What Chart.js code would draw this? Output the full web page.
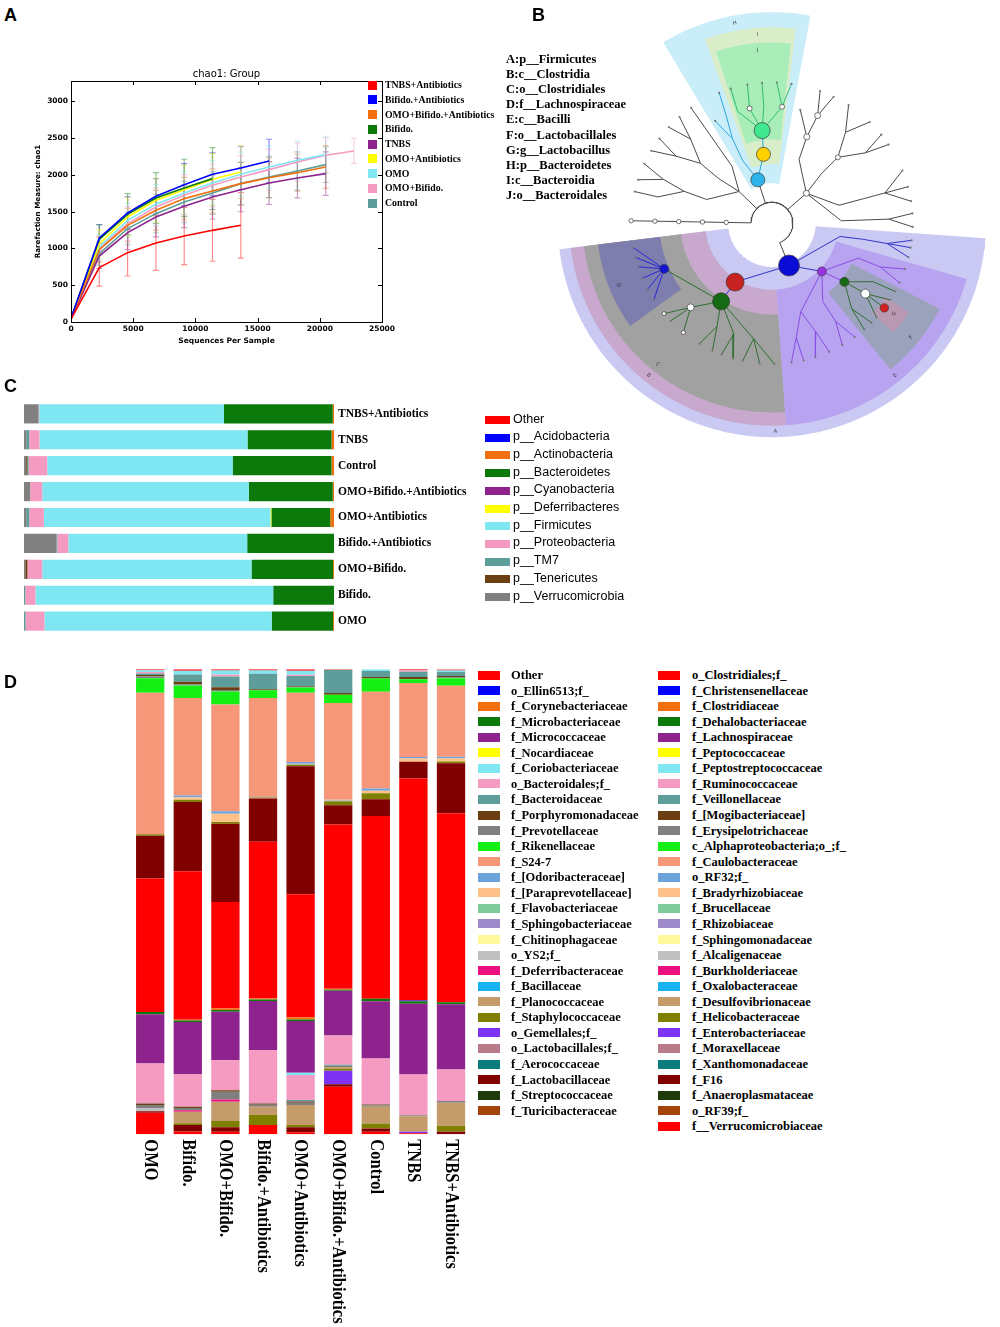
<!DOCTYPE html>
<html><head><meta charset="utf-8">
<script src="https://cdn.jsdelivr.net/npm/chart.js@4.4.1/dist/chart.umd.min.js"></script>
<style>
html,body{margin:0;padding:0;background:#fff}
body{position:relative;width:1000px;height:1327px;overflow:hidden}
canvas{position:absolute}
.t{position:absolute;white-space:nowrap;color:#000;z-index:5}
.sw{position:absolute;z-index:5}
</style></head><body>
<canvas id="cA" width="400" height="290" style="left:0;top:60px"></canvas>
<canvas id="cB" width="460" height="455" style="left:540px;top:0"></canvas>
<canvas id="cC" width="480" height="255" style="left:0;top:390px"></canvas>
<canvas id="cD" width="380" height="667" style="left:100px;top:660px"></canvas>
<script>
// ---------------- shared palette ----------------
const palette = ['#ff0000','#0000ff','#f07010','#0b7a0b','#8e238e','#ffff00','#7fe7f1','#f59bc2','#5e9d99','#6b3f12',
 '#808080','#14f014','#f6977a','#6ea2da','#fdc189','#80cb9b','#9c89c9','#fff89c','#c0c0c0','#ec0f80',
 '#17b3f0','#c49b6b','#808000','#7c33f4','#b97a8a','#0c7c7c','#800000','#1f3a0b','#a3440c'];

// ---------------- Panel A data ----------------
const seqDepth = [0, 2275, 4550, 6825, 9100, 11375, 13650, 15925, 18200, 20475, 22750];
const groupsA = ['TNBS+Antibiotics','Bifido.+Antibiotics','OMO+Bifido.+Antibiotics','Bifido.','TNBS','OMO+Antibiotics','OMO','OMO+Bifido.','Control'];
const chaoTnbsAnti     = [40, 739, 943, 1074, 1169, 1246, 1314];
const chaoBifidoAnti   = [50, 1142, 1482, 1709, 1867, 2008, 2094, 2189];
const chaoOmoBifidoAnti= [45, 983, 1314, 1518, 1677, 1781, 1881, 1962, 2030, 2107];
const chaoBifido       = [50, 1124, 1464, 1686, 1822, 1949];
const chaoTnbs         = [40, 897, 1215, 1428, 1573, 1700, 1799, 1890, 1958, 2017];
const chaoOmoAnti      = [45, 1065, 1428, 1654, 1799, 1940, 2039];
const chaoOmo          = [45, 1020, 1382, 1600, 1754, 1890, 2008, 2107, 2198, 2275];
const chaoOmoBifido    = [45, 997, 1337, 1563, 1722, 1858, 1971, 2071, 2175, 2266, 2325];
const chaoControl      = [45, 929, 1269, 1473, 1632, 1754, 1881, 1971, 2053, 2139];
const errTnbsAnti      = [0, 250, 318, 372, 390, 420, 445];
const errBifidoAnti    = [0, 180, 220, 240, 285, 290, 295, 295];
const errOmoBifidoAnti = [0, 170, 230, 270, 290, 300, 290, 270, 250, 290];
const errBifido        = [0, 200, 280, 345, 390, 420];
const errTnbs          = [0, 170, 230, 270, 290, 300, 300, 290, 270, 295];
const errOmoAnti       = [0, 190, 260, 300, 330, 350, 360];
const errOmo           = [0, 170, 230, 270, 290, 300, 300, 290, 260, 250];
const errOmoBifido     = [0, 170, 230, 260, 280, 290, 290, 280, 260, 240, 170];
const errControl       = [0, 160, 220, 260, 280, 290, 290, 280, 260, 240];
const chaoSeries = [chaoTnbsAnti, chaoBifidoAnti, chaoOmoBifidoAnti, chaoBifido, chaoTnbs, chaoOmoAnti, chaoOmo, chaoOmoBifido, chaoControl];
const chaoErrors = [errTnbsAnti, errBifidoAnti, errOmoBifidoAnti, errBifido, errTnbs, errOmoAnti, errOmo, errOmoBifido, errControl];
const xTicksA = [0, 5000, 10000, 15000, 20000, 25000];
const yTicksA = [0, 500, 1000, 1500, 2000, 2500, 3000];

// ---------------- Panel B data ----------------
const cladeLegend = ['A:p__Firmicutes','B:c__Clostridia','C:o__Clostridiales','D:f__Lachnospiraceae','E:c__Bacilli','F:o__Lactobacillales','G:g__Lactobacillus','H:p__Bacteroidetes','I:c__Bacteroidia','J:o__Bacteroidales'];
const sectorName   = ['A','B','C','D','E','F','G','H','I','J'];
const sectorStart  = [-173, -173, -173, -173, -86, -51, -42, 79.5, 83, 84];
const sectorEnd    = [-4, -86, -86, -144, -16, -27, -33, 121, 110, 108];
const sectorInner  = [46, 70, 96, 118, 70, 94, 142, 42, 62, 88];
const sectorOuter  = [225, 213, 199, 184, 213, 198, 172, 222, 206, 190];
const sectorLabelAngle  = [-89, -129, -129, -158, -51, -39.4, -36.6, 100.5, 94.3, 94.7];
const sectorLabelRadius = [219, 206, 191, 174, 206, 189, 160, 214, 199, 183];
const levelRadius = [22, 48, 73, 98, 123, 148];
const treeParent = [-1,0,1,2,3,4,4,4,4,4,4,3,11,11,11,3,15,15,3,18,18,3,21,21,21,
  1,25,26,27,27,27,26,31,31,26,34,25,36,37,37,36,40,40,25,43,44,44,25,47,48,48,1,51,52,53,53,53,
  0,57,58,59,60,59,62,59,64,59,66,66,57,69,70,71,70,
  0,74,75,76,77,77,76,80,80,74,83,84,85,74,87,88,89,89,88,92,
  0,94,95,96,97,
  0,99,100,101,102,102,101,99,106,107,108,108,107,111,111,99,114,115,116,116,116,99,120,121,122,122];
const treeAngle = [34,-68,-122,-123,-157,-170,-166,-162,-157,-152,-147,-134,-140,-136,-129,-118,-121,-115,-109,-111,-106,-99,-102,-95,-89,
  -44,-39,-37,-37,-42,-33,-47,-49,-45,-30,-29,-72,-78,-82,-77,-68,-72,-66,-57,-57,-60,-54,-22,-22,-25,-19,-11,-10,-10,-14,-10,-7,
  108,97,96,107,107,101,100,94,94,85,88,82,115,115,113,112,119,
  136,140,140,134,131,137,145,143,149,125,125,125,125,160,160,158,155,162,167,167,
  179,179,179,179,179,
  41,67,68,67,70,64,76,45,45,51,57,46,37,39,34,15,15,15,22,15,9,2,2,2,-1.5,4];
const treeLevel = [0,1,2,3,4,5,5,5,5,5,5,4,5,5,5,4,5,5,4,5,5,4,5,5,5,
  2,3,4,5,5,5,4,5,5,4,5,3,4,5,5,4,5,5,3,4,5,5,3,4,5,5,2,3,4,5,5,5,
  1,2,3,4,5,4,5,4,5,4,5,5,2,3,4,5,4,
  1,2,3,4,5,5,4,5,5,2,3,4,5,2,3,4,5,5,4,5,
  1,2,3,4,5,
  1,2,3,4,5,5,4,2,3,4,5,5,4,5,5,2,3,4,5,5,5,2,3,4,5,5];
const treeEdge = ['g','g','A','A','C','D','D','D','D','D','D','C','C','C','C','C','C','C','C','C','C','C','C','C','C',
  'A','E','F','F','F','F','F','F','F','F','F','E','E','E','E','E','E','E','E','E','E','E','E','E','E','E','A','A','A','A','A','A',
  'g','H','H','J','J','J','J','J','J','J','J','J','H','H','H','H','H',
  'g','g','g','g','g','g','g','g','g','g','g','g','g','g','g','g','g','g','g','g',
  'g','g','g','g','g',
  'g','g','g','g','g','g','g','g','g','g','g','g','g','g','g','g','g','g','g','g','g','g','g','g','g','g'];
const edgeKeys   = ['g','A','C','D','E','F','H','J'];
const edgeColors = ['#4a4a4a','#3535c8','#2f6e2f','#2828d8','#8a4de6','#2f6e2f','#2ea6e0','#2fbf6f'];
const markerNode  = [1, 2, 3, 4, 11, 12, 14, 25, 26, 27, 28, 57, 58, 59, 62, 66, 94, 95, 96, 97, 98, 99, 101, 102, 107];
const markerColor = ['#0b0bd6','#c62222','#146b14','#1414d2','#ffffff','#ffffff','#ffffff','#9932e0','#146b14','#ffffff','#d42020',
  '#2bb3ea','#ffd000','#40e890','#ffffff','#ffffff','#ffffff','#ffffff','#ffffff','#ffffff','#ffffff','#ffffff','#ffffff','#ffffff','#ffffff'];
const markerSize  = [10.5, 9, 8.5, 4.5, 3.5, 2, 2, 4.5, 4.5, 4.5, 4.2, 7, 7, 8, 2.5, 2.5, 2.2, 2.2, 2.2, 2.2, 2.2, 3, 3, 3, 2.5];
const sectorColor = ['#c9c9f3','#c8a9cd','#a1a1a1','#7d7dae','#b7a3ef','#9ba3bc','#b999b2','#c9edf9','#d9edc9','#a9edb9'];

// ---------------- Panel C data ----------------
const groupsC = ['TNBS+Antibiotics','TNBS','Control','OMO+Bifido.+Antibiotics','OMO+Antibiotics','Bifido.+Antibiotics','OMO+Bifido.','Bifido.','OMO'];
const phylaC = ['Other','p__Acidobacteria','p__Actinobacteria','p__Bacteroidetes','p__Cyanobacteria','p__Deferribacteres','p__Firmicutes','p__Proteobacteria','p__TM7','p__Tenericutes','p__Verrucomicrobia'];
const cOther           = [0, 0, 0, 0, 0, 0, 0, 0, 0];
const cAcidobacteria   = [0, 0, 0, 0, 0, 0, 0, 0, 0];
const cActinobacteria  = [0.4, 0.8, 0.8, 0.4, 1.2, 0, 0.3, 0, 0.3];
const cBacteroidetes   = [35.1, 27.1, 31.9, 27.1, 19.0, 28.0, 26.3, 19.6, 19.8];
const cCyanobacteria   = [0, 0, 0, 0, 0, 0, 0, 0, 0];
const cDeferribacteres = [0, 0, 0, 0, 0.3, 0, 0, 0, 0];
const cFirmicutes      = [59.6, 67.1, 59.8, 66.6, 73.1, 57.7, 67.5, 76.7, 73.3];
const cProteobacteria  = [0.2, 3.3, 6.0, 3.9, 4.7, 3.6, 4.8, 3.3, 6.1];
const cTM7             = [0, 1.0, 0.4, 0, 1.0, 0.3, 0, 0.4, 0.5];
const cTenericutes     = [0, 0, 0.4, 0, 0, 0, 0.7, 0, 0];
const cVerrucomicrobia = [4.7, 0.7, 0.7, 2.0, 0.7, 10.4, 0.4, 0, 0];
const phylaValues = [cOther, cAcidobacteria, cActinobacteria, cBacteroidetes, cCyanobacteria, cDeferribacteres, cFirmicutes, cProteobacteria, cTM7, cTenericutes, cVerrucomicrobia];

// ---------------- Panel D data ----------------
const groupsD = ['OMO','Bifido.','OMO+Bifido.','Bifido.+Antibiotics','OMO+Antibiotics','OMO+Bifido.+Antibiotics','Control','TNBS','TNBS+Antibiotics'];
const taxaD = ['Other','o_Ellin6513;f_','f_Corynebacteriaceae','f_Microbacteriaceae','f_Micrococcaceae','f_Nocardiaceae','f_Coriobacteriaceae','o_Bacteroidales;f_','f_Bacteroidaceae','f_Porphyromonadaceae','f_Prevotellaceae','f_Rikenellaceae','f_S24-7','f_[Odoribacteraceae]','f_[Paraprevotellaceae]','f_Flavobacteriaceae','f_Sphingobacteriaceae','f_Chitinophagaceae','o_YS2;f_','f_Deferribacteraceae','f_Bacillaceae','f_Planococcaceae','f_Staphylococcaceae','o_Gemellales;f_','o_Lactobacillales;f_','f_Aerococcaceae','f_Lactobacillaceae','f_Streptococcaceae','f_Turicibacteraceae',
 'o_Clostridiales;f_','f_Christensenellaceae','f_Clostridiaceae','f_Dehalobacteriaceae','f_Lachnospiraceae','f_Peptococcaceae','f_Peptostreptococcaceae','f_Ruminococcaceae','f_Veillonellaceae','f_[Mogibacteriaceae]','f_Erysipelotrichaceae','c_Alphaproteobacteria;o_;f_','f_Caulobacteraceae','o_RF32;f_','f_Bradyrhizobiaceae','f_Brucellaceae','f_Rhizobiaceae','f_Sphingomonadaceae','f_Alcaligenaceae','f_Burkholderiaceae','f_Oxalobacteraceae','f_Desulfovibrionaceae','f_Helicobacteraceae','f_Enterobacteriaceae','f_Moraxellaceae','f_Xanthomonadaceae','f_F16','f_Anaeroplasmataceae','o_RF39;f_','f__Verrucomicrobiaceae'];
const dOther                = [0.2, 0.3, 0.25, 0.25, 0.3, 0.1, 0, 0.2, 0.2];
const dCoriobacteriaceae    = [0.4, 0.8, 0.85, 0.7, 0.85, 0, 0.35, 0, 0.35];
const dBacteroidalesF       = [0.3, 0, 0.45, 0, 0.3, 0, 0, 0.35, 0];
const dBacteroidaceae       = [0.3, 1.6, 2.3, 3.35, 2.15, 5.0, 1.3, 1.1, 0.85];
const dPorphyromonadaceae   = [0.3, 0.5, 0.6, 0.2, 0.15, 0.35, 0.35, 0.5, 0.25];
const dPrevotellaceae       = [0.4, 0.3, 0.3, 0, 0.15, 0, 0, 0, 0.25];
const dRikenellaceae        = [3.15, 2.65, 2.8, 1.65, 1.15, 1.8, 2.85, 0.8, 1.6];
const dS247                 = [30.4, 21.0, 23.0, 21.15, 14.9, 20.8, 20.8, 15.9, 15.25];
const dOdoribacteraceae     = [0, 0.35, 0.5, 0, 0.35, 0, 0.45, 0.35, 0.35];
const dParaprevotellaceae   = [0, 0.55, 1.8, 0, 0, 0, 0.55, 0.7, 0.7];
const dYS2F                 = [0, 0, 0, 0, 0.25, 0.35, 0, 0, 0];
const dPlanococcaceae       = [0, 0, 0, 0.5, 0, 0, 0, 0, 0];
const dStaphylococcaceae    = [0.35, 0.5, 0.35, 0, 0.3, 0.85, 1.3, 0, 0.35];
const dLactobacillaceae     = [9.2, 14.9, 16.85, 9.3, 27.5, 4.15, 3.6, 3.6, 10.75];
const dClostridialesF       = [28.7, 31.9, 22.9, 33.7, 26.5, 35.3, 39.3, 47.7, 40.65];
const dChristensenellaceae  = [0, 0, 0, 0, 0, 0, 0, 0.2, 0];
const dClostridiaceae       = [0, 0.2, 0.3, 0.2, 0.45, 0.2, 0, 0, 0];
const dDehalobacteriaceae   = [0.5, 0.3, 0.4, 0.35, 0.35, 0.25, 0.55, 0.5, 0.45];
const dLachnospiraceae      = [10.6, 11.2, 10.4, 10.5, 11.1, 9.6, 12.3, 15.25, 14.0];
const dPeptostreptococcaceae= [0, 0, 0, 0, 0.5, 0, 0, 0, 0];
const dRuminococcaceae      = [8.6, 7.0, 6.45, 11.5, 5.4, 6.3, 9.9, 8.75, 6.8];
const dVeillonellaceae      = [0, 0, 0, 0, 0.3, 0.2, 0, 0, 0];
const dMogibacteriaceae     = [0.3, 0.3, 0.35, 0.3, 0.25, 0, 0.2, 0, 0];
const dErysipelotrichaceae  = [0.75, 0.5, 1.65, 0.4, 0.5, 0.3, 0.3, 0.2, 0.35];
const dAlcaligenaceae       = [0.6, 0, 0, 0, 0, 0, 0, 0, 0];
const dBurkholderiaceae     = [0, 0.3, 0.5, 0, 0, 0, 0, 0, 0];
const dDesulfovibrionaceae  = [0, 2.5, 4.15, 1.8, 4.3, 0.35, 3.6, 3.35, 4.95];
const dHelicobacteraceae    = [0, 0.35, 1.35, 2.15, 0.5, 0.45, 1.05, 0, 1.3];
const dEnterobacteriaceae   = [0, 0, 0, 0, 0, 2.9, 0, 0.35, 0];
const dF16                  = [0.3, 1.4, 0.95, 0, 1.05, 0.5, 0.7, 0, 0.55];
const dVerrucomicrobiaceae  = [4.65, 0.6, 0.55, 2.0, 0.45, 10.25, 0.55, 0.2, 0];
const taxonLookup = {
 'Other': dOther, 'f_Coriobacteriaceae': dCoriobacteriaceae, 'o_Bacteroidales;f_': dBacteroidalesF, 'f_Bacteroidaceae': dBacteroidaceae,
 'f_Porphyromonadaceae': dPorphyromonadaceae, 'f_Prevotellaceae': dPrevotellaceae, 'f_Rikenellaceae': dRikenellaceae, 'f_S24-7': dS247,
 'f_[Odoribacteraceae]': dOdoribacteraceae, 'f_[Paraprevotellaceae]': dParaprevotellaceae, 'o_YS2;f_': dYS2F, 'f_Planococcaceae': dPlanococcaceae,
 'f_Staphylococcaceae': dStaphylococcaceae, 'f_Lactobacillaceae': dLactobacillaceae, 'o_Clostridiales;f_': dClostridialesF,
 'f_Christensenellaceae': dChristensenellaceae, 'f_Clostridiaceae': dClostridiaceae, 'f_Dehalobacteriaceae': dDehalobacteriaceae,
 'f_Lachnospiraceae': dLachnospiraceae, 'f_Peptostreptococcaceae': dPeptostreptococcaceae, 'f_Ruminococcaceae': dRuminococcaceae,
 'f_Veillonellaceae': dVeillonellaceae, 'f_[Mogibacteriaceae]': dMogibacteriaceae, 'f_Erysipelotrichaceae': dErysipelotrichaceae,
 'f_Alcaligenaceae': dAlcaligenaceae, 'f_Burkholderiaceae': dBurkholderiaceae, 'f_Desulfovibrionaceae': dDesulfovibrionaceae,
 'f_Helicobacteraceae': dHelicobacteraceae, 'f_Enterobacteriaceae': dEnterobacteriaceae, 'f_F16': dF16, 'f__Verrucomicrobiaceae': dVerrucomicrobiaceae
};
const zeros9 = [0,0,0,0,0,0,0,0,0];

// ---------------- helpers ----------------
Chart.defaults.animation = false;
Chart.defaults.responsive = false;
Chart.defaults.plugins.tooltip.enabled = false;
Chart.defaults.plugins.legend.display = false;
function addText(txt, x, cy, font, lh, extra){
  const d = document.createElement('div'); d.className = 't';
  d.style.font = font; d.style.lineHeight = lh + 'px';
  d.style.left = x + 'px'; d.style.top = (cy - lh/2) + 'px';
  if (extra) Object.assign(d.style, extra);
  d.textContent = txt; document.body.appendChild(d);
}
function addSwatch(x, cy, w, h, c){
  const d = document.createElement('div'); d.className = 'sw';
  d.style.left = x + 'px'; d.style.top = (cy - h/2) + 'px'; d.style.width = w + 'px'; d.style.height = h + 'px'; d.style.background = c;
  document.body.appendChild(d);
}
function hexA(h, a){ const n = parseInt(h.slice(1), 16); return 'rgba(' + (n>>16) + ',' + ((n>>8)&255) + ',' + (n&255) + ',' + a + ')'; }

// panel letters
const PL = 'bold 18px "Liberation Sans", Arial, sans-serif';
addText('A', 4, 15, PL, 20); addText('B', 532, 15, PL, 20); addText('C', 4, 386, PL, 20); addText('D', 4, 682, PL, 20);

// ---------------- Panel A chart ----------------
const errorBars = { id: 'errorBars', beforeDatasetsDraw(chart){
  const {ctx, scales:{x, y}} = chart;
  chart.data.datasets.forEach(ds => {
    ctx.save(); ctx.strokeStyle = hexA(ds.borderColor, 0.45); ctx.lineWidth = 1.2;
    ds.data.forEach((p, i) => {
      const e = ds.errValues[i]; if (!e) return;
      const px = x.getPixelForValue(p.x), y1 = y.getPixelForValue(p.y - e), y2 = y.getPixelForValue(p.y + e);
      ctx.beginPath(); ctx.moveTo(px, y1); ctx.lineTo(px, y2);
      ctx.moveTo(px - 3, y1); ctx.lineTo(px + 3, y1); ctx.moveTo(px - 3, y2); ctx.lineTo(px + 3, y2); ctx.stroke();
    });
    ctx.restore();
  });
}};
const frameTicks = { id: 'frameTicks', afterDraw(chart){
  const {ctx, chartArea: a, scales:{x, y}} = chart;
  ctx.save(); ctx.strokeStyle = '#000'; ctx.lineWidth = 1;
  ctx.strokeRect(Math.round(a.left) + 0.5, Math.round(a.top) + 0.5, Math.round(a.right - a.left), Math.round(a.bottom - a.top));
  ctx.beginPath();
  xTicksA.forEach(v => { const px = Math.round(x.getPixelForValue(v)) + 0.5; ctx.moveTo(px, a.bottom); ctx.lineTo(px, a.bottom - 4); ctx.moveTo(px, a.top); ctx.lineTo(px, a.top + 4); });
  yTicksA.forEach(v => { const py = Math.round(y.getPixelForValue(v)) + 0.5; ctx.moveTo(a.left, py); ctx.lineTo(a.left + 4, py); ctx.moveTo(a.right, py); ctx.lineTo(a.right - 4, py); });
  ctx.stroke(); ctx.restore();
}};
new Chart(document.getElementById('cA'), {
  type: 'line',
  data: { datasets: groupsA.map((g, k) => ({
    label: g, data: chaoSeries[k].map((v, i) => ({x: seqDepth[i], y: v})), errValues: chaoErrors[k],
    borderColor: palette[k], backgroundColor: palette[k], borderWidth: 1.6, pointRadius: 0, tension: 0, fill: false })) },
  options: {
    layout: { padding: { left: 30, right: 18, top: 0, bottom: 0 } },
    plugins: { title: { display: true, text: 'chao1: Group', fullSize: false, color: '#000', font: { family: 'DejaVu Sans', size: 10, weight: 'normal' }, padding: { top: 8, bottom: 1 } } },
    scales: {
      x: { type: 'linear', min: 0, max: 25000, grid: { display: false, drawTicks: false }, border: { display: false },
        afterBuildTicks(s){ s.ticks = xTicksA.map(v => ({ value: v })); },
        ticks: { autoSkip: false, color: '#000', padding: 3, font: { family: 'DejaVu Sans', size: 7.5, weight: 'bold' }, maxRotation: 0, callback: v => String(v) },
        title: { display: true, text: 'Sequences Per Sample', color: '#000', font: { family: 'DejaVu Sans', size: 7.5, weight: 'bold' }, padding: { top: 2, bottom: 4 } },
        afterFit(s){ s.height = 28; } },
      y: { type: 'linear', min: 0, max: 3276, grid: { display: false, drawTicks: false }, border: { display: false },
        afterBuildTicks(s){ s.ticks = yTicksA.map(v => ({ value: v })); },
        ticks: { autoSkip: false, color: '#000', padding: 3, font: { family: 'DejaVu Sans', size: 7.5, weight: 'bold' }, callback: v => String(v) },
        title: { display: true, text: 'Rarefaction Measure: chao1', color: '#000', font: { family: 'DejaVu Sans', size: 7.2, weight: 'bold' }, padding: { top: 4, bottom: 4 } },
        afterFit(s){ s.width = 41; } }
    }
  },
  plugins: [errorBars, frameTicks]
});
groupsA.forEach((g, k) => { addSwatch(368, 85 + 14.75 * k, 9, 9, palette[k]); addText(g, 385, 85 + 14.75 * k, 'bold 9.8px "Liberation Serif", serif', 12); });

// ---------------- Panel B chart ----------------
function polar(a, r){ const t = a * Math.PI / 180; return { x: r * Math.cos(t), y: r * Math.sin(t) }; }
function arcPts(a0, a1, r){ const n = Math.max(2, Math.ceil(Math.abs(a1 - a0) / 1.5) + 1); const p = []; for (let i = 0; i < n; i++) p.push(polar(a0 + (a1 - a0) * i / (n - 1), r)); return p; }
const dsB = [];
dsB.push({ data: markerNode.map(n => polar(treeAngle[n], levelRadius[treeLevel[n]])), showLine: false,
  pointRadius: markerSize, pointBackgroundColor: markerColor, pointBorderColor: '#3a3a3a', pointBorderWidth: 0.7, order: 1 });
const isParent = new Set(treeParent);
const leafIdx = treeAngle.map((a, i) => i).filter(i => i > 0 && !isParent.has(i));
dsB.push({ data: leafIdx.map(n => polar(treeAngle[n], levelRadius[treeLevel[n]])), showLine: false,
  pointRadius: 1.1, pointBackgroundColor: '#777', pointBorderWidth: 0, order: 2 });
edgeKeys.forEach((key, k) => {
  const pts = [];
  for (let i = 1; i < treeParent.length; i++) {
    if (treeEdge[i] !== key) continue;
    const p = treeParent[i];
    if (treeLevel[p] === 0) {
      // root: follow the inner circle, then go out radially
      arcPts(treeAngle[p], treeAngle[i], levelRadius[0]).forEach(q => pts.push(q));
    } else {
      pts.push(polar(treeAngle[p], levelRadius[treeLevel[p]]));
    }
    pts.push(polar(treeAngle[i], levelRadius[treeLevel[i]]));
    pts.push({ x: NaN, y: NaN });
  }
  dsB.push({ data: pts, borderColor: edgeColors[k], borderWidth: 1, pointRadius: 0, spanGaps: false, tension: 0, fill: false, order: 10 });
});
sectorName.forEach((s, k) => {
  const pts = arcPts(sectorStart[k], sectorEnd[k], sectorOuter[k]).concat(arcPts(sectorEnd[k], sectorStart[k], sectorInner[k]));
  pts.push(pts[0]);
  dsB.push({ data: pts, borderWidth: 0, borderColor: 'rgba(0,0,0,0)', backgroundColor: sectorColor[k], fill: 'shape', pointRadius: 0, tension: 0, order: 200 - k });
});
const sectorLabels = { id: 'sectorLabels', afterDatasetsDraw(chart){
  const {ctx, scales:{x, y}} = chart;
  ctx.save(); ctx.fillStyle = '#333'; ctx.font = '5px "DejaVu Sans", sans-serif'; ctx.textAlign = 'center'; ctx.textBaseline = 'middle';
  sectorName.forEach((s, k) => {
    const p = polar(sectorLabelAngle[k], sectorLabelRadius[k]);
    ctx.save(); ctx.translate(x.getPixelForValue(p.x), y.getPixelForValue(p.y));
    const a = sectorLabelAngle[k];
    ctx.rotate((a > 0 ? (90 - a) : (-90 - a)) * Math.PI / 180);
    ctx.fillText(s, 0, 0); ctx.restore();
  });
  ctx.restore();
}};
new Chart(document.getElementById('cB'), {
  type: 'line',
  data: { datasets: dsB },
  options: {
    layout: { padding: 0 },
    scales: { x: { type: 'linear', display: false, min: -232, max: 228 }, y: { type: 'linear', display: false, min: -232, max: 223 } }
  },
  plugins: [sectorLabels]
});
cladeLegend.forEach((t, k) => addText(t, 506, 59 + 15.1 * k, 'bold 12.5px "Liberation Serif", serif', 14));

// ---------------- Panel C chart ----------------
new Chart(document.getElementById('cC'), {
  type: 'bar',
  data: { labels: groupsC, datasets: phylaC.map((p, k) => ({ label: p, data: phylaValues[k], backgroundColor: palette[k], borderWidth: 0 })).reverse() },
  options: {
    indexAxis: 'y',
    layout: { padding: { left: 24, top: 5.5, bottom: 7.4, right: 0 } },
    datasets: { bar: { barPercentage: 0.74, categoryPercentage: 1 } },
    scales: {
      x: { stacked: true, display: false, min: 0, max: 100 },
      y: { stacked: true, position: 'right', grid: { display: false, drawTicks: false }, border: { display: false },
        ticks: { color: '#000', padding: 4, font: { family: 'Liberation Serif', size: 11.5, weight: 'bold' } },
        afterFit(s){ s.width = 146; } }
    }
  }
});
phylaC.forEach((p, k) => { addSwatch(485, 420 + 17.7 * k, 25, 8, palette[k]); addText(p, 513, 419 + 17.7 * k, '12.5px "Liberation Sans", Arial, sans-serif', 15); });

// ---------------- Panel D chart ----------------
const rotLabels = { id: 'rotLabels', afterDraw(chart){
  const {ctx, chartArea: a, scales:{x}} = chart;
  ctx.save(); ctx.fillStyle = '#000'; ctx.font = 'bold 16.5px "Liberation Serif", serif'; ctx.textAlign = 'left'; ctx.textBaseline = 'middle';
  chart.data.labels.forEach((l, i) => {
    ctx.save(); ctx.translate(x.getPixelForValue(i), a.bottom + 5); ctx.rotate(Math.PI / 2); ctx.scale(1, 1.2); ctx.fillText(l, 0, 0); ctx.restore();
  });
  ctx.restore();
}};
const dsD = taxaD.map((t, i) => ({ label: t, data: taxonLookup[t] || zeros9, backgroundColor: palette[i % 29], borderWidth: 0 })).reverse();
new Chart(document.getElementById('cD'), {
  type: 'bar',
  data: { labels: groupsD, datasets: dsD },
  options: {
    layout: { padding: { left: 31.4, right: 10.2, top: 9.3, bottom: 192.7 } },
    datasets: { bar: { barPercentage: 0.753, categoryPercentage: 1 } },
    scales: { x: { stacked: true, display: false }, y: { stacked: true, display: false, min: 0, max: 100 } }
  },
  plugins: [rotLabels]
});
taxaD.forEach((t, i) => {
  const col = i < 29 ? 0 : 1, row = i < 29 ? i : i - 29;
  const cy = 675 + 15.56 * row;
  addSwatch(col ? 658 : 478, cy, 22, 9, palette[i % 29]);
  addText(t, col ? 692 : 511, cy, 'bold 12.5px "Liberation Serif", serif', 14);
});
</script>
</body></html>
